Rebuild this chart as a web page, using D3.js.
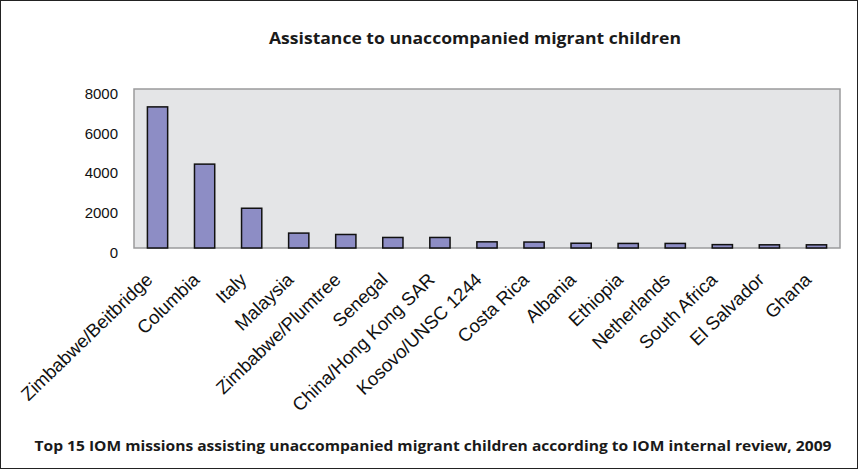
<!DOCTYPE html>
<html>
<head>
<meta charset="utf-8">
<script src="https://cdn.jsdelivr.net/npm/d3@7"></script>
<style>
  body { margin: 0; background: #fff; }
</style>
</head>
<body>
<div id="chart-wrapper"></div>
<script>
const missions = [
  "Zimbabwe/Beitbridge", "Columbia", "Italy", "Malaysia", "Zimbabwe/Plumtree",
  "Senegal", "China/Hong Kong SAR", "Kosovo/UNSC 1244", "Costa Rica", "Albania",
  "Ethiopia", "Netherlands", "South Africa", "El Salvador", "Ghana"
]
const children = [7100, 4220, 2000, 750, 680, 530, 530, 310, 300, 240, 230, 230, 170, 160, 160]
const yTicks = [0, 2000, 4000, 6000, 8000]

const chartTitle = "Assistance to unaccompanied migrant children"
const caption = "Top 15 IOM missions assisting unaccompanied migrant children according to IOM internal review, 2009"

function drawChart() {
  const dimensions = {
    width: 858,
    height: 469,
    margin: { top: 89, right: 18, bottom: 221, left: 134 },
  }
  dimensions.boundedWidth = dimensions.width - dimensions.margin.left - dimensions.margin.right
  dimensions.boundedHeight = dimensions.height - dimensions.margin.top - dimensions.margin.bottom

  const xScale = d3.scaleBand()
      .domain(missions)
      .range([0, dimensions.boundedWidth])
      .paddingInner(0.57)
      .paddingOuter(0.285)

  const yScale = d3.scaleLinear()
      .domain([0, 8000])
      .range([dimensions.boundedHeight, 0])

  const wrapper = d3.select("#chart-wrapper")
    .append("svg")
      .attr("width", dimensions.width)
      .attr("height", dimensions.height)

  // outer frame
  wrapper.append("rect")
      .attr("x", 0.5)
      .attr("y", 0.5)
      .attr("width", dimensions.width - 1)
      .attr("height", dimensions.height - 1)
      .attr("fill", "#fff")
      .attr("stroke", "#222")
      .attr("stroke-width", 1)

  wrapper.append("text")
      .attr("x", 475)
      .attr("y", 44)
      .attr("text-anchor", "middle")
      .attr("font-family", "'Open Sans', sans-serif")
      .attr("font-weight", "bold")
      .attr("font-size", 16.5)
      .attr("textLength", 412)
      .attr("lengthAdjust", "spacingAndGlyphs")
      .attr("fill", "#1a1a1a")
      .text(chartTitle)

  wrapper.append("text")
      .attr("x", 433)
      .attr("y", 451)
      .attr("text-anchor", "middle")
      .attr("font-family", "'Open Sans', sans-serif")
      .attr("font-weight", "bold")
      .attr("font-size", 14)
      .attr("textLength", 797)
      .attr("lengthAdjust", "spacingAndGlyphs")
      .attr("fill", "#1a1a1a")
      .text(caption)

  const bounds = wrapper.append("g")
      .attr("transform", `translate(${dimensions.margin.left}, ${dimensions.margin.top})`)

  // plot area
  bounds.append("rect")
      .attr("width", dimensions.boundedWidth)
      .attr("height", dimensions.boundedHeight)
      .attr("fill", "#e4e5e7")
      .attr("stroke", "#9a9a9c")
      .attr("stroke-width", 1.5)

  bounds.selectAll(".bar")
    .data(children)
    .join("rect")
      .attr("class", "bar")
      .attr("x", (d, i) => xScale(missions[i]))
      .attr("y", d => yScale(d))
      .attr("width", xScale.bandwidth())
      .attr("height", d => dimensions.boundedHeight - yScale(d))
      .attr("fill", "#8d8dc5")
      .attr("stroke", "#111")
      .attr("stroke-width", 1.5)

  // y axis
  const yAxisGenerator = d3.axisLeft(yScale)
      .tickValues(yTicks)
      .tickSize(0)
      .tickPadding(16)
      .tickFormat(d3.format("d"))

  const yAxis = bounds.append("g").call(yAxisGenerator)
  yAxis.select(".domain").remove()
  yAxis.selectAll("text")
      .attr("dy", "0.62em")
      .attr("font-family", "'Liberation Sans', Arial, sans-serif")
      .attr("font-size", 15)
      .attr("fill", "#111")

  // x axis labels, rotated
  const xAxisGenerator = d3.axisBottom(xScale).tickSize(0)
  const xAxis = bounds.append("g")
      .attr("transform", `translate(0, ${dimensions.boundedHeight})`)
      .call(xAxisGenerator)
  xAxis.select(".domain").remove()
  xAxis.selectAll("text")
      .attr("y", 0)
      .attr("dy", 0)
      .attr("transform", "translate(-4, 33) rotate(-44)")
      .attr("text-anchor", "end")
      .attr("font-family", "'Liberation Sans', Arial, sans-serif")
      .attr("font-size", 18.5)
      .attr("fill", "#111")
}

drawChart()
</script>
</body>
</html>
